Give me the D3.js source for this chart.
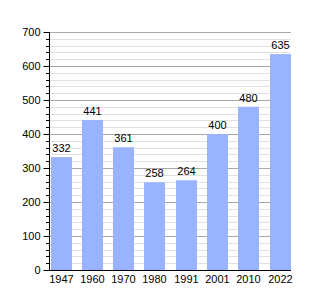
<!DOCTYPE html>
<html><head><meta charset="utf-8">
<script src="https://cdn.jsdelivr.net/npm/d3@7"></script>
<style>body{margin:0;background:#fff}svg{display:block}text{font-family:"Liberation Sans",Arial,sans-serif;font-size:11px;fill:#000}</style>
</head><body><svg width="320" height="300"></svg>
<script>
const years = ["1947","1960","1970","1980","1991","2001","2010","2022"];
const values = [332,441,361,258,264,400,480,635];
const yTicks = [0,100,200,300,400,500,600,700];

const svg = d3.select("svg");
const mLeft = 49, mRight = 291, mTop = 32, mBottom = 270;
const y = d3.scaleLinear().domain([0,700]).range([mBottom, mTop]);
const x = d3.scaleBand().domain(years).range([50.5, 300.8]).padding(0);
const bw = 21;

const minor = d3.range(0, 701, 20).filter(v => v % 100 !== 0);
svg.append("g").selectAll("line").data(minor).join("line")
  .attr("x1", mLeft).attr("x2", mRight)
  .attr("y1", d => Math.round(y(d)) + 0.5).attr("y2", d => Math.round(y(d)) + 0.5)
  .attr("stroke", "#e0e0e0");
svg.append("g").selectAll("line").data(yTicks.slice(1)).join("line")
  .attr("x1", mLeft).attr("x2", mRight)
  .attr("y1", d => Math.round(y(d)) + 0.5).attr("y2", d => Math.round(y(d)) + 0.5)
  .attr("stroke", "#a8a8a8");

svg.append("g").selectAll("rect").data(values).join("rect")
  .attr("x", (d,i) => Math.round(x(years[i])))
  .attr("width", bw)
  .attr("y", d => y(d))
  .attr("height", d => mBottom - y(d))
  .attr("fill", "#99b3ff");

svg.append("g").selectAll("text").data(values).join("text")
  .attr("x", (d,i) => Math.round(x(years[i])) + bw/2)
  .attr("y", d => y(d) - 5)
  .attr("text-anchor", "middle")
  .text(d => d);

// y axis
const yAxis = svg.append("g").attr("transform", `translate(${mLeft+0.5},0)`)
  .call(d3.axisLeft(y).tickValues(yTicks).tickSize(6).tickPadding(3).tickFormat(d3.format("d")));
yAxis.select(".domain").attr("stroke", "#000").attr("d", `M0,${mTop}V${mBottom}`);
yAxis.selectAll(".tick line").attr("stroke", "#000");
yAxis.selectAll(".tick text").style("font-size", "11px").attr("fill", "#000").attr("font-family", "Liberation Sans, Arial, sans-serif");
svg.append("g").selectAll("line").data(minor).join("line")
  .attr("x1", mLeft - 3).attr("x2", mLeft)
  .attr("y1", d => Math.round(y(d)) + 0.5).attr("y2", d => Math.round(y(d)) + 0.5)
  .attr("stroke", "#000");

// x axis
svg.append("line").attr("x1", mLeft).attr("x2", mRight)
  .attr("y1", mBottom + 0.5).attr("y2", mBottom + 0.5).attr("stroke", "#000");
svg.append("g").selectAll("text").data(years).join("text")
  .attr("x", d => Math.round(x(d)) + bw/2)
  .attr("y", mBottom + 13)
  .attr("text-anchor", "middle")
  .text(d => d);
</script></body></html>
